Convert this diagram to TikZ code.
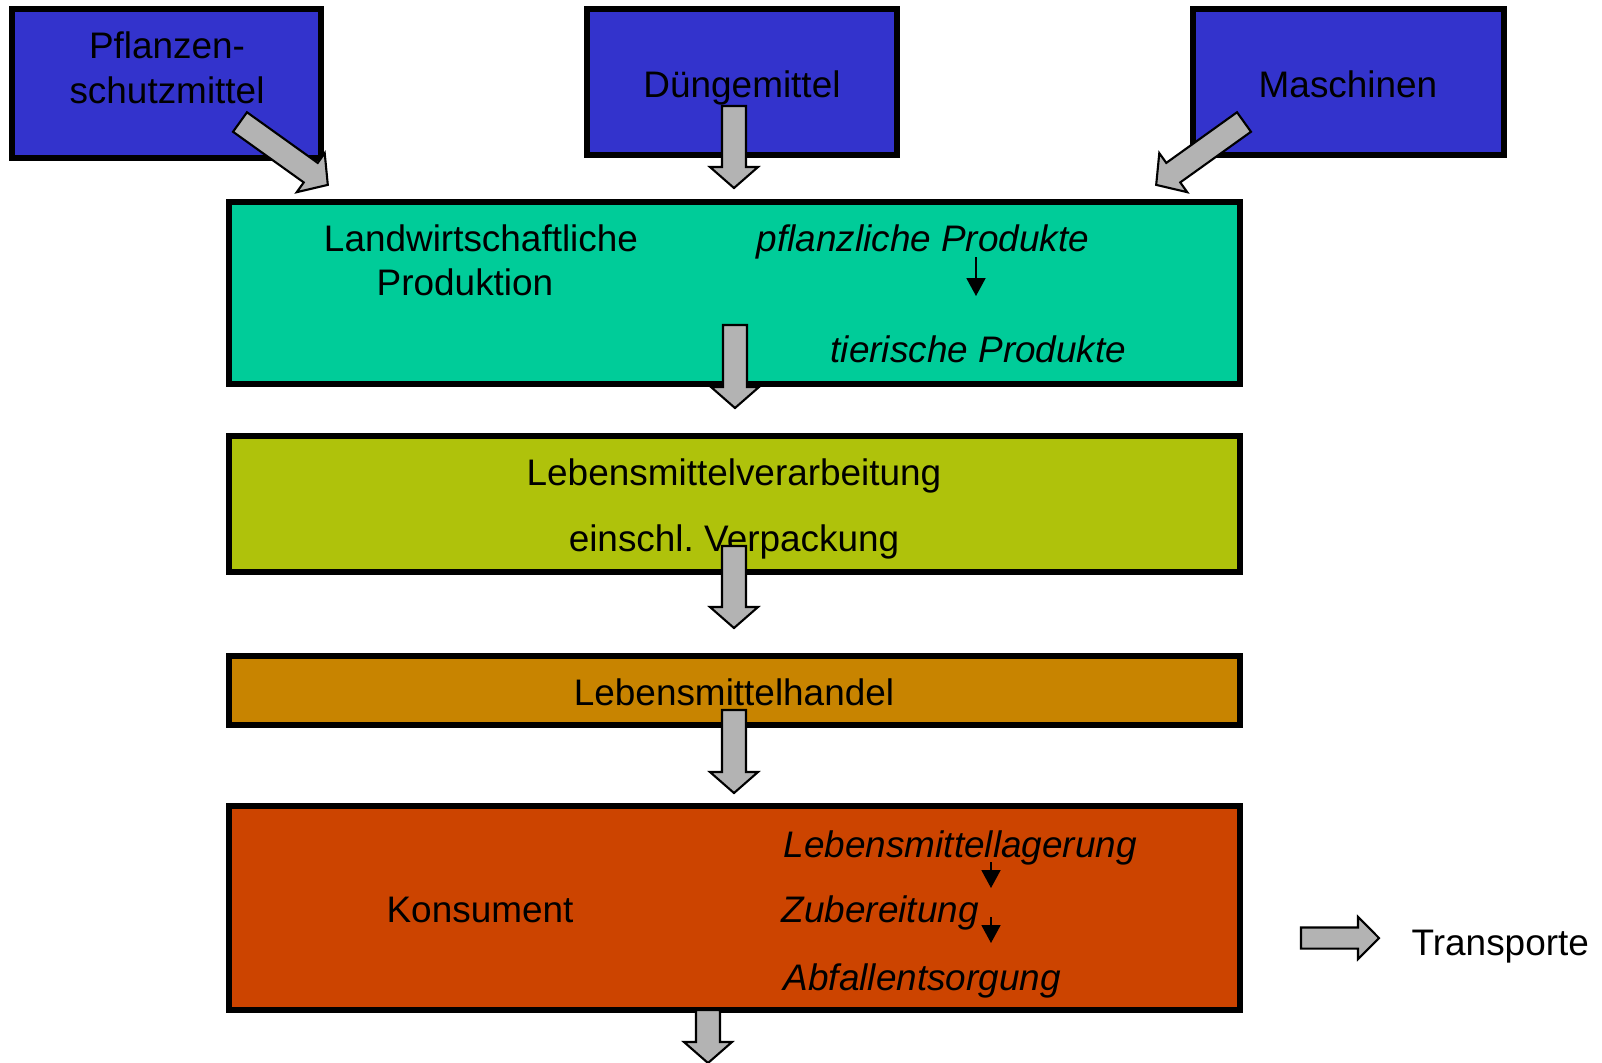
\documentclass[tikz,border=0pt]{standalone}
\usepackage{fontspec}
\setmainfont{Liberation Sans}
\usepackage{tikz}
\usetikzlibrary{arrows.meta}

\definecolor{zulieferblau}{HTML}{3333CC}
\definecolor{landgruen}{HTML}{00CC99}
\definecolor{verarbgelb}{HTML}{AFC20B}
\definecolor{handelocker}{HTML}{C88400}
\definecolor{konsumrot}{HTML}{CC4400}
\definecolor{pfeilgrau}{HTML}{B3B3B3}

\begin{document}
\begin{tikzpicture}[x=0.01cm,y=-0.01cm,
  box/.style={draw=black, line width=1.7pt, inner sep=0pt},
  txt/.style={inner sep=0pt, text height=7.6pt, text depth=0pt, font=\fontsize{10.5}{12.8}\selectfont},
  itxt/.style={txt, anchor=west, font=\fontsize{10.5}{12.8}\selectfont\itshape},
  folge/.style={line width=0.5pt, -{Triangle[width=5.4pt,length=5.1pt]}},
  pics/transport/.style={code={
    \draw[draw=black, fill=pfeilgrau, line width=0.6pt]
      (0,-12) -- (#1-21,-12) -- (#1-21,-24) -- (#1,0) -- (#1-21,24)
      -- (#1-21,12) -- (0,12) -- cycle;}}]
\useasboundingbox (0,0) rectangle (1602,1062);

% Zulieferer
\node[box, fill=zulieferblau, minimum width=3.09cm, minimum height=1.49cm] (pflanzen) at (166.5,83.5) {};
\node[box, fill=zulieferblau, minimum width=3.10cm, minimum height=1.46cm] (duenger) at (742,82) {};
\node[box, fill=zulieferblau, minimum width=3.11cm, minimum height=1.46cm] (maschinen) at (1348.5,82) {};
\node[inner sep=0pt, font=\fontsize{10.5}{12.8}\selectfont, align=center] (pflanzentxt) at (167,67.5) {Pflanzen-\\schutzmittel};
\node[txt] (duengertxt) at (742,84) {Düngemittel};
\node[txt] (maschinentxt) at (1348,84) {Maschinen};

% Kette
\node[box, fill=landgruen, minimum width=10.11cm, minimum height=1.82cm] (land) at (734.5,293) {};
\node[box, fill=verarbgelb, minimum width=10.11cm, minimum height=1.36cm] (verarb) at (734.5,504) {};
\node[box, fill=handelocker, minimum width=10.11cm, minimum height=0.69cm] (handel) at (734.5,690.5) {};
\node[box, fill=konsumrot, minimum width=10.11cm, minimum height=2.04cm] (konsum) at (734.5,908) {};

\node[txt] (landtxt1) at (481,238) {Landwirtschaftliche};
\node[txt] (landtxt2) at (465,282) {Produktion};
\node[itxt] (pflanzlich) at (756,238) {pflanzliche Produkte};
\node[itxt] (tierisch) at (830,349) {tierische Produkte};
\coordinate (p1) at (976,257);
\coordinate (p2) at (976,296);
\draw[folge] (p1) -- (p2);

\node[txt] (verarbtxt1) at (734,472) {Lebensmittelverarbeitung};
\node[txt] (verarbtxt2) at (734,538) {einschl.\ Verpackung};
\node[txt] (handeltxt) at (734,692) {Lebensmittelhandel};

\node[txt] (konsumtxt) at (480,909) {Konsument};
\node[itxt] (lagerung) at (783,844) {Lebensmittellagerung};
\node[itxt] (zubereitung) at (781,909) {Zubereitung};
\node[itxt] (abfall) at (783,977) {Abfallentsorgung};
\coordinate (k1) at (991,862);
\coordinate (k2) at (991,888);
\coordinate (k3) at (991,917);
\coordinate (k4) at (991,943);
\draw[folge] (k1) -- (k2);
\draw[folge] (k3) -- (k4);

% Transporte
\pic[rotate=-35.6] at (240,122) {transport=108};
\pic[rotate=-90] at (734,106) {transport=82};
\pic[rotate=-144.4] at (1244,122) {transport=108};
\pic[rotate=-90] at (735,325) {transport=83};
\pic[rotate=-90] at (734,546) {transport=82};
\pic[rotate=-90] at (734,710) {transport=83};
\pic[rotate=-90] at (708,1010) {transport=53};

% Legende
\pic[yscale=0.88] at (1301,938) {transport=78};
\node[txt, anchor=west] (legende) at (1411,942) {Transporte};
\end{tikzpicture}
\end{document}
